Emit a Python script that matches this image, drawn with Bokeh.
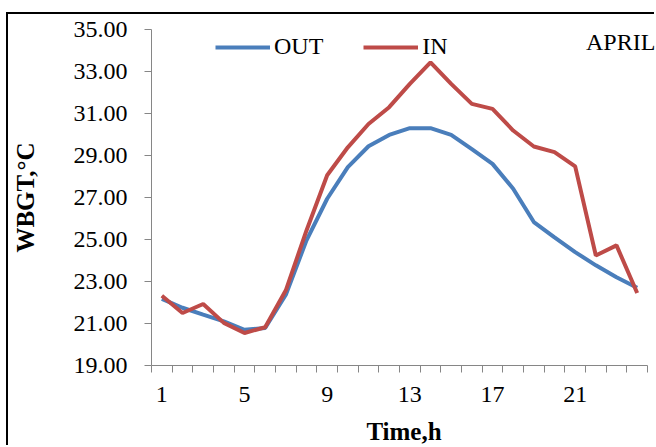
from bokeh.plotting import figure
from bokeh.models import (Range1d, FixedTicker, PrintfTickFormatter, Legend, LegendItem,
                          ColumnDataSource)
from bokeh.embed import file_html
from bokeh.resources import INLINE

# ---- data ----
hours = list(range(1, 25))
wbgt_out = [22.17, 21.75, 21.42, 21.10, 20.70, 20.79, 22.37, 24.96, 26.94, 28.45, 29.44, 29.98,
            30.30, 30.30, 29.98, 29.30, 28.60, 27.42, 25.83, 25.10, 24.40, 23.77, 23.20, 22.70]
wbgt_in = [22.32, 21.50, 21.93, 21.03, 20.55, 20.82, 22.58, 25.43, 28.06, 29.39, 30.50, 31.30,
           32.41, 33.44, 32.41, 31.46, 31.22, 30.19, 29.43, 29.16, 28.48, 24.24, 24.72, 22.45]
y_ticks = [19, 21, 23, 25, 27, 29, 31, 33, 35]
x_label_ticks = [1, 5, 9, 13, 17, 21]
x_boundaries = [h - 0.5 for h in hours] + [24.5]
month = "APRIL"

FONT = "Liberation Serif"
BLUE = "#4A7EBB"
RED = "#BE4B48"
GRAY = "#868686"

src = ColumnDataSource(dict(h=hours, out=wbgt_out, inn=wbgt_in))

# frame spans to the right edge so that the month text is not clipped;
# the axis line itself is bounded to the 24 hour categories
p = figure(width=648, height=433, output_backend="svg", toolbar_location=None,
           x_range=Range1d(0.5, 24.935), y_range=Range1d(19, 35),
           min_border_left=142, min_border_right=0, min_border_top=15, min_border_bottom=82)
p.styles = {"margin-left": "6px", "margin-top": "12px",
            "border-left": "2px solid black", "border-top": "2px solid black"}
p.outline_line_color = None
p.xgrid.grid_line_color = None
p.ygrid.grid_line_color = None
p.background_fill_color = "white"
p.border_fill_color = "white"

r_out = p.line("h", "out", source=src, line_color=BLUE, line_width=4)
r_in = p.line("h", "inn", source=src, line_color=RED, line_width=4)
r_month = p.line([], [], line_alpha=0)

# x axis
xa = p.xaxis[0]
xa.bounds = (0.5, 24.5)
xa.ticker = FixedTicker(ticks=x_label_ticks, minor_ticks=x_boundaries)
xa.major_tick_out = 0
xa.major_tick_in = 0
xa.minor_tick_out = 7
xa.minor_tick_in = 0
xa.minor_tick_line_color = GRAY
xa.axis_line_color = GRAY
xa.major_label_standoff = 14
xa.major_label_text_font = FONT
xa.major_label_text_font_size = "24px"
xa.major_label_text_color = "black"
xa.axis_label = "Time,h"
xa.axis_label_text_font = FONT
xa.axis_label_text_font_size = "25px"
xa.axis_label_text_font_style = "bold"
xa.axis_label_text_color = "black"
xa.axis_label_standoff = 13

# y axis
ya = p.yaxis[0]
ya.ticker = FixedTicker(ticks=y_ticks, minor_ticks=[])
ya.formatter = PrintfTickFormatter(format="%.2f")
ya.major_tick_out = 7
ya.major_tick_in = 0
ya.major_tick_line_color = GRAY
ya.axis_line_color = GRAY
ya.minor_tick_line_color = None
ya.major_label_standoff = 17
ya.major_label_text_font = FONT
ya.major_label_text_font_size = "24px"
ya.major_label_text_color = "black"
ya.axis_label = "WBGT,\u00b0C"
ya.axis_label_text_font = FONT
ya.axis_label_text_font_size = "25px"
ya.axis_label_text_font_style = "bold"
ya.axis_label_text_color = "black"
ya.axis_label_standoff = 32

# legend
legend = Legend(items=[LegendItem(label="OUT", renderers=[r_out]),
                       LegendItem(label="IN", renderers=[r_in])],
                orientation="horizontal", location=(64, 305),
                glyph_width=55, glyph_height=20, label_standoff=4, spacing=40,
                padding=0, margin=0, border_line_color=None, background_fill_alpha=0,
                label_text_font=FONT, label_text_font_size="24px", label_text_color="black")
p.add_layout(legend)

# month label (as a glyph-less legend entry)
month_legend = Legend(items=[LegendItem(label=month, renderers=[r_month])],
                      location=(435, 309), glyph_width=0, glyph_height=20, label_standoff=0,
                      padding=0, margin=0, border_line_color=None, background_fill_alpha=0,
                      label_text_font=FONT, label_text_font_size="24px", label_text_color="black")
p.add_layout(month_legend)

open("out.html", "w").write(file_html(p, INLINE))
